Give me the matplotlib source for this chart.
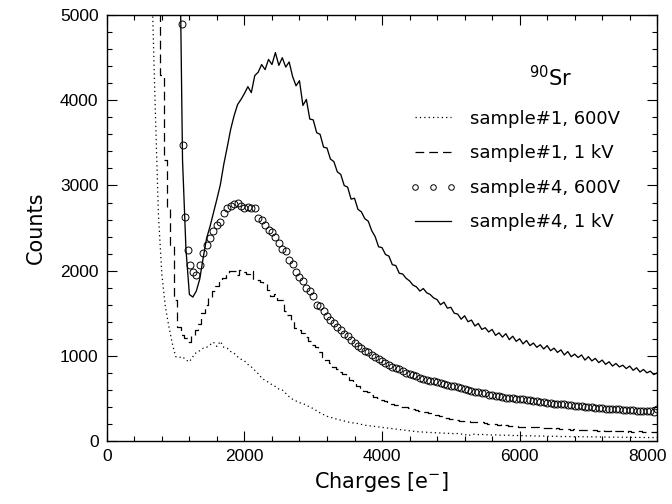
import numpy as np
import matplotlib
matplotlib.use("Agg")
import matplotlib.pyplot as plt
from matplotlib.lines import Line2D
from matplotlib.ticker import MultipleLocator
import matplotlib.transforms as mtransforms

plt.rcParams['font.family'] = ['DejaVu Sans']

# ---------------- data ----------------
# sample#4, 1 kV (solid) : bins of 50 e- starting at 1050
s4_1kv_x0, s4_1kv_dx = 1050, 50
s4_1kv = [6500, 3300, 2250, 1720, 1690, 1760, 1900, 2150, 2380, 2520,
          2680, 2840, 3010, 3250, 3450, 3660, 3820, 3950, 4010, 4080,
          4160, 4090, 4290, 4330, 4420, 4360, 4480, 4420, 4560, 4410,
          4500, 4390, 4450, 4280, 4170, 4230, 3940, 4010, 3780, 3770,
          3620, 3600, 3450, 3440, 3310, 3280, 3160, 3130, 3000, 2980,
          2840, 2850, 2720, 2690, 2610, 2580, 2470, 2400, 2280, 2270,
          2190, 2170, 2070, 2060, 1970, 1960, 1910, 1880, 1830, 1810,
          1760, 1790, 1740, 1720, 1680, 1660, 1600, 1630, 1560, 1570,
          1500, 1490, 1430, 1470, 1400, 1420, 1350, 1380, 1310, 1330,
          1280, 1310, 1240, 1270, 1220, 1260, 1190, 1230, 1170, 1200,
          1140, 1180, 1120, 1150, 1100, 1130, 1080, 1120, 1060, 1090,
          1040, 1070, 1010, 1050, 990, 1020, 980, 1010, 950, 990,
          940, 970, 920, 950, 900, 930, 880, 910, 870, 890,
          850, 880, 830, 860, 810, 840, 800, 820, 780, 800,
          770, 790, 760, 780, 750, 770, 740, 760, 740]

# sample#4, 600 V (open circles)
s4_600_head_x = [1095, 1105, 1140, 1175, 1210, 1250]
s4_600_head = [4900, 3480, 2630, 2240, 2070, 1980]
s4_600_x0, s4_600_dx = 1300, 50
s4_600 = [1950, 2070, 2210, 2300, 2380, 2460, 2540, 2570, 2680, 2740,
          2760, 2780, 2790, 2760, 2740, 2750, 2730, 2730, 2620, 2600,
          2540, 2480, 2450, 2390, 2330, 2250, 2230, 2120, 2080, 1980,
          1920, 1880, 1800, 1760, 1700, 1600, 1580, 1530, 1470, 1420,
          1390, 1340, 1300, 1260, 1230, 1190, 1150, 1120, 1090, 1060,
          1040, 1010, 990, 960, 940, 920, 890, 870, 860, 840,
          820, 800, 790, 770, 760, 740, 730, 720, 710, 700,
          690, 680, 670, 660, 650, 640, 630, 620, 610, 600,
          590, 580, 575, 565, 560, 540, 545, 530, 530, 520,
          510, 505, 500, 495, 495, 490, 480, 480, 470, 470,
          460, 455, 450, 445, 440, 440, 430, 430, 425, 420,
          415, 410, 410, 400, 400, 395, 390, 390, 385, 380,
          380, 375, 370, 370, 365, 365, 360, 360, 355, 355,
          350, 350, 350, 345, 370]

# sample#1, 1 kV (dashed) : bins of 50 e- starting at 750
s1_1kv_x0, s1_1kv_dx = 750, 50
s1_1kv = [6000, 4300, 3300, 2750, 2300, 1650, 1340, 1250, 1210, 1160,
          1250, 1300, 1370, 1500, 1600, 1690, 1760, 1820, 1890, 1910,
          1950, 2000, 1990, 1950, 2010, 1980, 1960, 1990, 1900, 1890,
          1870, 1850, 1770, 1700, 1720, 1660, 1650, 1530, 1480, 1420,
          1330, 1300, 1270, 1220, 1170, 1130, 1100, 1040, 990, 950,
          910, 870, 840, 810, 790, 750, 720, 680, 650, 610,
          590, 570, 540, 520, 500, 485, 470, 455, 440, 425,
          420, 405, 400, 390, 375, 360, 350, 345, 335, 330,
          315, 300, 290, 275, 265, 255, 250, 245, 240, 235,
          230, 225, 220, 225, 220, 215, 205, 200, 195, 190,
          195, 185, 180, 175, 180, 170, 170, 165, 170, 160,
          165, 155, 155, 150, 155, 145, 150, 140, 145, 140,
          135, 140, 130, 135, 130, 125, 130, 125, 120, 130,
          120, 115, 125, 120, 115, 120, 110, 115, 110, 105,
          115, 105, 110, 100, 105, 100]

# sample#1, 600 V (dotted) : bins of 50 e- starting at 650
s1_600_x0, s1_600_dx = 650, 50
s1_600 = [5500, 4000, 2650, 1950, 1580, 1350, 1150, 990, 980, 990,
          950, 930, 990, 1040, 1060, 1090, 1100, 1130, 1160, 1110,
          1170, 1100, 1090, 1050, 1030, 990, 960, 940, 900, 870,
          830, 790, 740, 710, 690, 660, 640, 610, 600, 560,
          520, 490, 470, 450, 440, 420, 400, 380, 355, 330,
          310, 290, 280, 265, 255, 245, 235, 225, 215, 210,
          205, 195, 185, 180, 175, 170, 165, 160, 155, 150,
          145, 140, 135, 130, 125, 120, 115, 110, 108, 105,
          102, 100, 98, 95, 93, 92, 90, 90, 85, 88,
          82, 80, 60, 78, 80, 75, 78, 72, 74, 70,
          72, 68, 70, 66, 68, 64, 66, 62, 64, 60,
          62, 58, 60, 57, 58, 55, 57, 54, 55, 52,
          54, 51, 52, 50, 51, 49, 50, 48, 49, 47,
          48, 46, 47, 45, 46, 44, 45, 44, 44, 43,
          43, 42, 42, 41, 41, 40, 40, 40]

labels = ["sample#1, 600V", "sample#1, 1 kV", "sample#4, 600V", "sample#4, 1 kV"]
source_label = r"$^{90}$Sr"

# ---------------- figure ----------------
fig = plt.figure(figsize=(6.72, 5.04), dpi=100)
ax = fig.add_axes([0.159, 0.125, 0.819, 0.845])

def xs(x0, dx, n):
    return x0 + dx * np.arange(n)

ax.plot(xs(s1_600_x0, s1_600_dx, len(s1_600)), s1_600, color='black',
        lw=0.9, ls=(0, (1, 2.5)))
ax.plot(xs(s1_1kv_x0, s1_1kv_dx, len(s1_1kv)), s1_1kv, color='black',
        lw=0.9, ls=(0, (7, 4)), drawstyle='steps-mid')
cx = np.concatenate([s4_600_head_x, xs(s4_600_x0, s4_600_dx, len(s4_600))])
cy = np.concatenate([s4_600_head, s4_600])
ax.plot(cx, cy, ls='none', marker='o', ms=5, mfc='none', mec='black', mew=0.7)
ax.plot(xs(s4_1kv_x0, s4_1kv_dx, len(s4_1kv)), s4_1kv, color='black',
        lw=0.95)

ax.set_xlim(0, 8000)
ax.set_ylim(0, 5000)
ax.xaxis.set_major_locator(MultipleLocator(2000))
ax.xaxis.set_minor_locator(MultipleLocator(400))
ax.yaxis.set_major_locator(MultipleLocator(1000))
ax.yaxis.set_minor_locator(MultipleLocator(200))
ax.tick_params(which='both', direction='in', top=True, right=True, width=0.8)
ax.tick_params(which='major', length=7, labelsize=12.5, pad=6)
ax.tick_params(which='minor', length=3.5)
for lab in ax.get_xticklabels() + ax.get_yticklabels():
    lab.set_fontfamily('Liberation Sans')
for sp in ax.spines.values():
    sp.set_linewidth(1.0)

ax.set_xlabel(r"Charges [e$^{-}$]", fontsize=15, labelpad=4)
ax.set_ylabel("Counts", fontsize=15, labelpad=10)

ax.text(0.807, 0.854, source_label, transform=ax.transAxes, fontsize=15,
        ha='center', va='center')

handles = [
    Line2D([], [], color='black', lw=0.9, ls=(0, (1, 2.5))),
    Line2D([], [], color='black', lw=0.9, ls=(0, (7, 4))),
    Line2D([], [], ls='none', marker='o', ms=4, mfc='none', mec='black', mew=0.7),
    Line2D([], [], color='black', lw=0.9),
]
ax.legend(handles, labels, loc='upper right', bbox_to_anchor=(0.945, 0.795),
          frameon=False, fontsize=13, numpoints=3, handlelength=2.6,
          handletextpad=0.75, labelspacing=0.92, borderaxespad=0.0)

fig.canvas.draw()
for t in ax.get_xticklabels():
    if t.get_text() == '8000':
        t.set_transform(t.get_transform() + mtransforms.ScaledTranslation(-10/100, 0, fig.dpi_scale_trans))

fig.savefig("out.png", dpi=100)
